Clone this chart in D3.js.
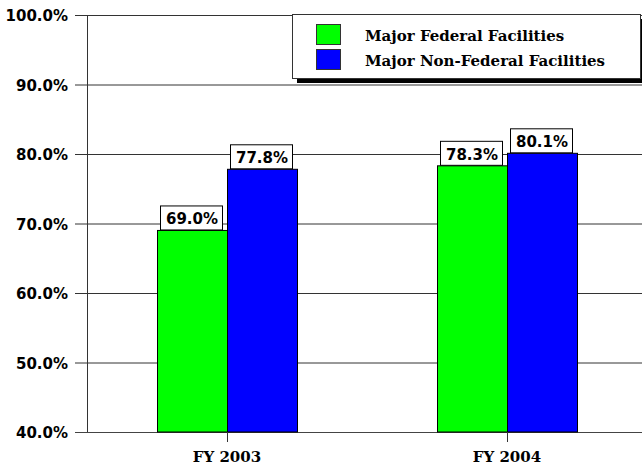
<!DOCTYPE html>
<html>
<head>
<meta charset="utf-8">
<script src="https://cdn.jsdelivr.net/npm/d3@7"></script>
<style>
  body { margin: 0; background: #fff; }
  svg { display: block; }
</style>
</head>
<body>
<svg id="chart" width="642" height="468"></svg>
<script>
// Data
const years = ["FY 2003", "FY 2004"];
const seriesNames = ["Major Federal Facilities", "Major Non-Federal Facilities"];
const federal = [69.0, 78.3];
const nonFederal = [77.8, 80.1];
const colors = ["#00ff00", "#0000ff"];
const yTicks = [40, 50, 60, 70, 80, 90, 100];

const svg = d3.select("#chart");

const margin = { top: 15, right: -5, bottom: 36, left: 87 };
const width = 642 - margin.left - margin.right;
const height = 468 - margin.top - margin.bottom;

const g = svg.append("g")
    .attr("transform", "translate(" + margin.left + "," + margin.top + ")");

const x = d3.scaleBand().domain(years).range([0, width]);
const x1 = d3.scaleBand().domain(seriesNames).range([x.bandwidth() * 0.25, x.bandwidth() * 0.75]);
const y = d3.scaleLinear().domain([40, 100]).range([height, 0]);

// gridlines
g.selectAll(".grid")
    .data(yTicks)
    .enter().append("line")
    .attr("x1", -12).attr("x2", width)
    .attr("y1", d => y(d) + 0.5).attr("y2", d => y(d) + 0.5)
    .attr("stroke", d => d === 40 ? "#444" : "#333")
    .attr("stroke-width", 1);

// y axis line
g.append("line")
    .attr("x1", 0.5).attr("x2", 0.5)
    .attr("y1", 0).attr("y2", height)
    .attr("stroke", "#333");

// y labels
g.selectAll(".ylab")
    .data(yTicks)
    .enter().append("text")
    .attr("x", -19)
    .attr("y", d => y(d) + 6)
    .attr("text-anchor", "end")
    .style("font-family", "'DejaVu Sans', Verdana, sans-serif")
    .style("font-weight", "bold")
    .style("font-size", "15px")
    .text(d => d.toFixed(1) + "%");

// bars
const rows = years.map((yr, i) => ({ year: yr, values: [federal[i], nonFederal[i]] }));

const groups = g.selectAll(".yr")
    .data(rows)
    .enter().append("g")
    .attr("transform", d => "translate(" + x(d.year) + ",0)");

groups.selectAll("rect")
    .data(d => d.values.map((v, j) => ({ name: seriesNames[j], value: v, color: colors[j] })))
    .enter().append("rect")
    .attr("x", d => x1(d.name) + 0.5)
    .attr("y", d => y(d.value))
    .attr("width", x1.bandwidth())
    .attr("height", d => height - y(d.value))
    .attr("fill", d => d.color)
    .attr("stroke", "#000")
    .attr("stroke-width", 1);

// value label boxes
const lab = groups.selectAll(".lab")
    .data(d => d.values.map((v, j) => ({ name: seriesNames[j], value: v })))
    .enter().append("g")
    .attr("transform", d => "translate(" + (x1(d.name) + x1.bandwidth() / 2) + "," + y(d.value) + ")");

lab.append("rect")
    .attr("x", -31.5).attr("y", -24.5)
    .attr("width", 62).attr("height", 24)
    .attr("fill", "#fff")
    .attr("stroke", "#000");

lab.append("text")
    .attr("y", -6)
    .attr("text-anchor", "middle")
    .style("font-family", "'DejaVu Sans', Verdana, sans-serif")
    .style("font-weight", "bold")
    .style("font-size", "15px")
    .text(d => d.value.toFixed(1) + "%");

// x axis ticks and labels
g.selectAll(".xt")
    .data(years)
    .enter().append("line")
    .attr("x1", d => x(d) + x.bandwidth() / 2 + 0.5)
    .attr("x2", d => x(d) + x.bandwidth() / 2 + 0.5)
    .attr("y1", height).attr("y2", height + 10)
    .attr("stroke", "#333");

g.selectAll(".xl")
    .data(years)
    .enter().append("text")
    .attr("x", d => x(d) + x.bandwidth() / 2)
    .attr("y", height + 30)
    .attr("text-anchor", "middle")
    .style("font-family", "'DejaVu Serif', 'Times New Roman', serif")
    .style("font-weight", "bold")
    .style("font-size", "15px")
    .text(d => d);

// legend
const leg = svg.append("g").attr("transform", "translate(292,14)");
leg.append("rect")
    .attr("x", 5).attr("y", 5)
    .attr("width", 348).attr("height", 64)
    .attr("fill", "#000");
leg.append("rect")
    .attr("x", 0.5).attr("y", 0.5)
    .attr("width", 348).attr("height", 64)
    .attr("fill", "#fff")
    .attr("stroke", "#333");

const li = leg.selectAll(".li")
    .data(seriesNames)
    .enter().append("g")
    .attr("transform", (d, i) => "translate(0," + (i * 25) + ")");

li.append("rect")
    .attr("x", 24.5).attr("y", 10.5)
    .attr("width", 24).attr("height", 20)
    .attr("fill", (d, i) => colors[i])
    .attr("stroke", "#333");

li.append("text")
    .attr("x", 73)
    .attr("y", 27)
    .style("font-family", "'DejaVu Serif', 'Times New Roman', serif")
    .style("font-weight", "bold")
    .style("font-size", "15px")
    .text(d => d);
</script>
</body>
</html>
